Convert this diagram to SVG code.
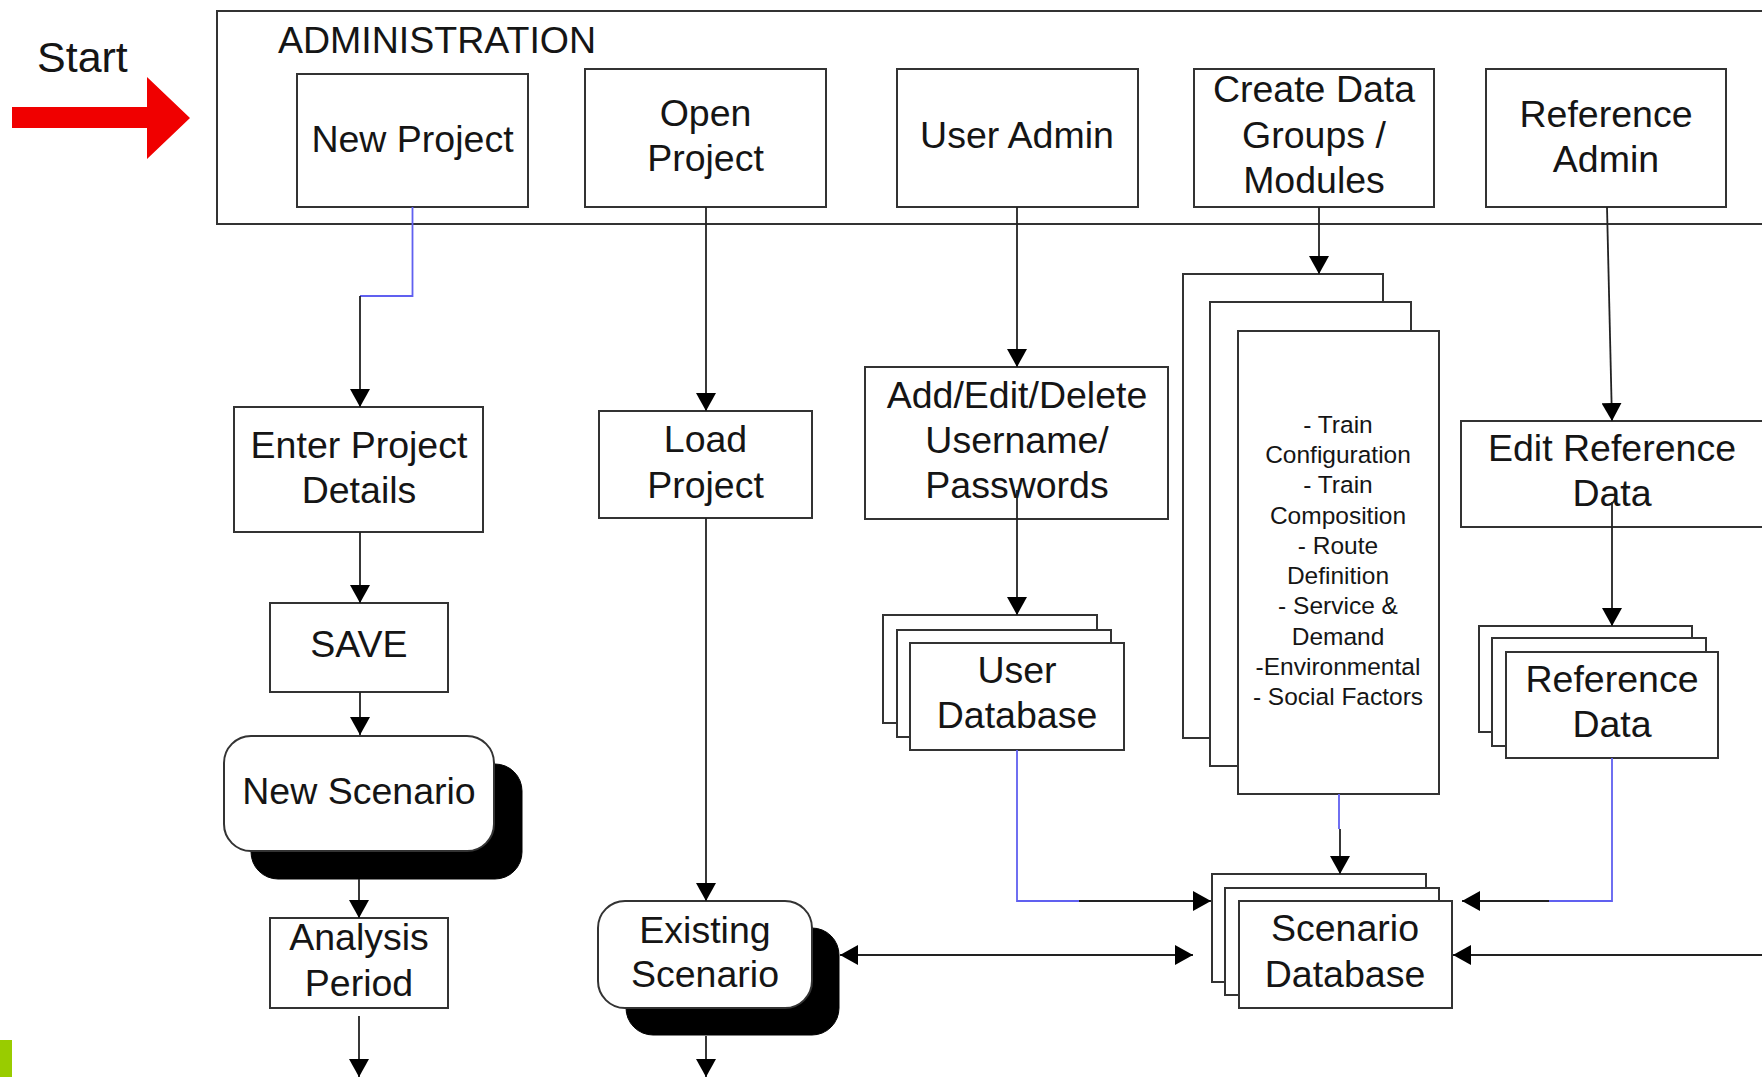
<svg xmlns="http://www.w3.org/2000/svg" width="1762" height="1077" viewBox="0 0 1762 1077">
<style>
  .box{fill:#fff;stroke:#333;stroke-width:2}
  .shadow{fill:#000;stroke:#000;stroke-width:1}
  .t{font-family:"Liberation Sans",Arial,sans-serif;font-size:37.5px;fill:#151515;text-anchor:middle}
  .s{font-family:"Liberation Sans",Arial,sans-serif;font-size:24.5px;fill:#151515;text-anchor:middle}
  .c{fill:none;stroke:#222;stroke-width:1.8}
  .b{fill:none;stroke:#6060f0;stroke-width:1.8}
  .a{marker-end:url(#arr)}
</style>
<defs>
  <marker id="arr" viewBox="0 0 18 20" refX="18" refY="10" markerWidth="18" markerHeight="20" markerUnits="userSpaceOnUse" orient="auto-start-reverse">
    <path d="M0,0 L18,10 L0,20 z" fill="#000"/>
  </marker>
</defs>
<rect width="1762" height="1077" fill="#fff"/>

<g id="start">
  <text x="37" y="72" style="font-family:'Liberation Sans',Arial,sans-serif;font-size:43px;fill:#151515">Start</text>
  <polygon points="12,107 147,107 147,77 190,118 147,159 147,128 12,128" fill="#f00000"/>
</g>

<g id="administration">
  <rect x="217" y="11" width="1600" height="213" fill="none" stroke="#333" stroke-width="2"/>
  <text x="278" y="53" style="font-family:'Liberation Sans',Arial,sans-serif;font-size:37.5px;fill:#151515">ADMINISTRATION</text>
</g>

<g id="new-project">
  <rect class="box" x="297" y="74" width="231" height="133"/>
  <text class="t" x="412.5" y="152">New Project</text>
</g>
<g id="open-project">
  <rect class="box" x="585" y="69" width="241" height="138"/>
  <text class="t" x="705.5" y="126">Open</text>
  <text class="t" x="705.5" y="171">Project</text>
</g>
<g id="user-admin">
  <rect class="box" x="897" y="69" width="241" height="138"/>
  <text class="t" x="1017" y="148">User Admin</text>
</g>
<g id="create-data-groups">
  <rect class="box" x="1194" y="69" width="240" height="138"/>
  <text class="t" x="1314" y="102">Create Data</text>
  <text class="t" x="1314" y="148">Groups /</text>
  <text class="t" x="1314" y="193">Modules</text>
</g>
<g id="reference-admin">
  <rect class="box" x="1486" y="69" width="240" height="138"/>
  <text class="t" x="1606" y="127">Reference</text>
  <text class="t" x="1606" y="172">Admin</text>
</g>

<g id="enter-project-details">
  <rect class="box" x="234" y="407" width="249" height="125"/>
  <text class="t" x="359" y="458">Enter Project</text>
  <text class="t" x="359" y="503">Details</text>
</g>
<g id="save">
  <rect class="box" x="270" y="603" width="178" height="89"/>
  <text class="t" x="359" y="657">SAVE</text>
</g>
<g id="new-scenario">
  <rect class="shadow" x="251" y="764" width="271" height="115" rx="27"/>
  <rect class="box" x="224" y="736" width="270" height="115" rx="27"/>
  <text class="t" x="359" y="804">New Scenario</text>
</g>
<g id="analysis-period">
  <rect class="box" x="270" y="918" width="178" height="90"/>
  <text class="t" x="359" y="950">Analysis</text>
  <text class="t" x="359" y="996">Period</text>
</g>

<g id="load-project">
  <rect class="box" x="599" y="411" width="213" height="107"/>
  <text class="t" x="705.5" y="452">Load</text>
  <text class="t" x="705.5" y="498">Project</text>
</g>
<g id="existing-scenario">
  <rect class="shadow" x="626" y="928" width="213" height="107" rx="27"/>
  <rect class="box" x="598" y="901" width="214" height="107" rx="27"/>
  <text class="t" x="705" y="943">Existing</text>
  <text class="t" x="705" y="987">Scenario</text>
</g>

<g id="add-edit-delete">
  <rect class="box" x="865" y="367" width="303" height="152"/>
  <text class="t" x="1017" y="408">Add/Edit/Delete</text>
  <text class="t" x="1017" y="453">Username/</text>
  <text class="t" x="1017" y="498">Passwords</text>
</g>
<g id="user-database">
  <rect class="box" x="883" y="615" width="214" height="108"/>
  <rect class="box" x="897" y="630" width="214" height="107"/>
  <rect class="box" x="910" y="643" width="214" height="107"/>
  <text class="t" x="1017" y="683">User</text>
  <text class="t" x="1017" y="728">Database</text>
</g>

<g id="modules">
  <rect class="box" x="1183" y="274" width="200" height="464"/>
  <rect class="box" x="1210" y="302" width="201" height="464"/>
  <rect class="box" x="1238" y="331" width="201" height="463"/>
  <text class="s" x="1338" y="433">- Train</text>
  <text class="s" x="1338" y="463">Configuration</text>
  <text class="s" x="1338" y="493">- Train</text>
  <text class="s" x="1338" y="524">Composition</text>
  <text class="s" x="1338" y="554">- Route</text>
  <text class="s" x="1338" y="584">Definition</text>
  <text class="s" x="1338" y="614">- Service &amp;</text>
  <text class="s" x="1338" y="645">Demand</text>
  <text class="s" x="1338" y="675">-Environmental</text>
  <text class="s" x="1338" y="705">- Social Factors</text>
</g>

<g id="edit-reference-data">
  <rect class="box" x="1461" y="421" width="310" height="106"/>
  <text class="t" x="1612" y="461">Edit Reference</text>
  <text class="t" x="1612" y="506">Data</text>
</g>
<g id="reference-data">
  <rect class="box" x="1479" y="626" width="213" height="106"/>
  <rect class="box" x="1492" y="638" width="214" height="108"/>
  <rect class="box" x="1506" y="652" width="212" height="106"/>
  <text class="t" x="1612" y="692">Reference</text>
  <text class="t" x="1612" y="737">Data</text>
</g>

<g id="scenario-database">
  <rect class="box" x="1212" y="874" width="214" height="108"/>
  <rect class="box" x="1225" y="888" width="214" height="107"/>
  <rect class="box" x="1239" y="901" width="213" height="107"/>
  <text class="t" x="1345" y="941">Scenario</text>
  <text class="t" x="1345" y="987">Database</text>
</g>

<g id="connectors">
  <path class="b" d="M412.5,207 V296 H360"/>
  <path class="c a" d="M360,296 V407"/>
  <path class="c a" d="M360,532 V603"/>
  <path class="c a" d="M360,692 V735"/>
  <path class="c a" d="M359,879 V918"/>
  <path class="c a" d="M359,1016 V1077"/>
  <path class="c a" d="M706,207 V411"/>
  <path class="c a" d="M706,518 V901"/>
  <path class="c a" d="M706,1036 V1077"/>
  <path class="c a" d="M1017,207 V367"/>
  <path class="c a" d="M1017,490 V615"/>
  <path class="b" d="M1017,750 V901 H1079"/>
  <path class="c a" d="M1079,901 H1211"/>
  <path class="c a" d="M1319,207 V274"/>
  <path class="b" d="M1339,794 V829"/>
  <path class="c a" d="M1340,829 V874"/>
  <path class="c a" d="M840,955 H1193" marker-start="url(#arr)"/>
  <path class="c a" d="M1607,207 L1612,421"/>
  <path class="c a" d="M1612,502 V626"/>
  <path class="b" d="M1612,758 V901 H1549"/>
  <path class="c a" d="M1549,901 H1462"/>
  <path class="c a" d="M1762,955 H1453"/>
</g>

<rect id="green-mark" x="0" y="1040" width="12" height="37" fill="#99cc00"/>
</svg>
